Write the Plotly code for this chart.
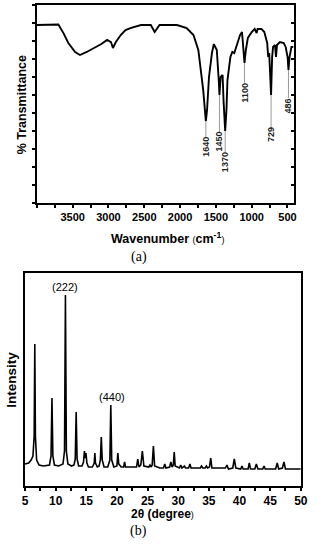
import plotly.graph_objects as go

# ---------------- (a) FT-IR spectrum ----------------
ir_wavenumber = [4000, 3765, 3700, 3629, 3561, 3466, 3398, 3304, 3195, 3100,
                 3019, 2965, 2938, 2897, 2829, 2762, 2694, 2613, 2545, 2409,
                 2355, 2287, 2043, 1908, 1813, 1745, 1718, 1677, 1640, 1623,
                 1596, 1555, 1528, 1487, 1460, 1450, 1433, 1406, 1393, 1370,
                 1352, 1338, 1297, 1270, 1243, 1203, 1162, 1135, 1118, 1100,
                 1081, 1053, 999, 958, 931, 917, 864, 823, 783, 769,
                 755, 729, 714, 701, 674, 660, 646, 606, 552, 525,
                 498, 486, 471, 444, 417]
ir_transmittance = [98.9, 99.4, 99.2, 94.4, 88.9, 83.9, 82.2, 83.9, 86.1, 88.3,
                    90.6, 89.4, 86.1, 89.4, 93.3, 96.1, 97.2, 98.3, 98.9, 98.9,
                    95.0, 98.9, 98.9, 97.2, 93.3, 85.0, 75.6, 62.8, 45.5, 51.7,
                    70.0, 83.3, 88.3, 85.0, 68.3, 60.0, 70.0, 71.1, 57.2, 40.0,
                    51.7, 68.3, 81.1, 83.9, 83.3, 88.9, 93.3, 95.0, 85.0, 77.8,
                    85.0, 91.7, 95.0, 96.7, 94.4, 96.7, 96.7, 95.0, 88.9, 81.1,
                    83.3, 60.0, 81.1, 86.7, 87.8, 81.1, 87.8, 89.4, 88.9, 86.7,
                    81.1, 73.9, 81.1, 86.7, 86.7]
ir_peak_labels = ["1640", "1450", "1370", "1100", "729", "486"]
ir_peak_wn = [1640, 1450, 1370, 1100, 729, 486]
ir_x_ticks = [3500, 3000, 2500, 2000, 1500, 1000, 500]

# ---------------- (b) XRD pattern ----------------
xrd_two_theta = [5.0, 5.6, 6.0, 6.3, 6.5, 6.6, 6.7, 6.9, 7.3, 8.0,
                 9.0, 9.25, 9.4, 9.55, 9.8, 10.5, 11.2, 11.45, 11.6, 11.75,
                 12.0, 12.6, 13.0, 13.2, 13.35, 13.5, 13.75, 14.3, 14.55, 14.7,
                 14.82, 14.95, 15.1, 15.35, 16.0, 16.3, 16.4, 16.5, 16.8, 17.1,
                 17.3, 17.45, 17.6, 17.9, 18.5, 18.85, 19.0, 19.15, 19.5, 20.0,
                 20.15, 20.3, 20.7, 21.1, 21.25, 21.4, 22.0, 23.2, 23.4, 23.6,
                 23.9, 24.15, 24.4, 25.2, 25.4, 25.6, 25.75, 25.95, 26.15, 27.0,
                 27.6, 27.8, 28.0, 28.6, 28.8, 29.0, 29.2, 29.35, 29.5, 30.2,
                 30.4, 30.6, 30.85, 31.0, 31.2, 31.7, 31.9, 32.1, 33.6, 33.8,
                 34.0, 34.4, 34.6, 34.8, 35.1, 35.3, 35.5, 37.7, 37.95, 38.2,
                 38.9, 39.15, 39.4, 40.2, 40.4, 40.6, 41.4, 41.6, 41.8, 42.5,
                 42.75, 43.0, 43.8, 44.0, 44.2, 45.9, 46.15, 46.4, 47.0, 47.25,
                 47.5, 48.0, 50.0]
xrd_intensity = [22, 23, 26, 30, 50, 142, 50, 26, 21, 20,
                 21, 30, 88, 30, 21, 20, 22, 35, 191, 35,
                 22, 20, 21, 27, 74, 27, 20, 20, 24, 35,
                 28, 33, 23, 19, 19, 23, 33, 23, 19, 20,
                 26, 49, 26, 19, 19, 26, 81, 26, 19, 20,
                 33, 22, 19, 19, 24, 19, 19, 19, 27, 19,
                 21, 35, 20, 19, 21, 19, 21, 40, 20, 18,
                 18, 22, 18, 19, 24, 19, 21, 34, 20, 18,
                 21, 18, 19, 20, 18, 18, 22, 18, 18, 20,
                 18, 18, 20, 18, 19, 28, 18, 18, 21, 17,
                 18, 27, 18, 17, 20, 17, 17, 23, 17, 17,
                 22, 17, 17, 20, 17, 17, 23, 17, 18, 24,
                 17, 17, 17]
xrd_peak_labels = ["(222)", "(440)"]
xrd_peak_pos = [11.6, 19.0]
xrd_x_ticks = [5, 10, 15, 20, 25, 30, 35, 40, 45, 50]

W, H = 317, 550
FONT = "Liberation Sans, Arial, sans-serif"
SERIF = "Liberation Serif, Times New Roman, serif"

fig = go.Figure()

fig.add_trace(go.Scatter(x=ir_wavenumber, y=ir_transmittance, mode="lines",
                         line=dict(color="black", width=1.9),
                         xaxis="x", yaxis="y", hoverinfo="skip"))

# leader lines + peak labels (a)
label_center = [31.1, 34.4, 22.8, 61.7, 37.8, 53.9]
label_top = [36.7, 38.9, 28.3, 66.7, 41.7, 58.3]
lx, ly = [], []
for wn, yc, yt, txt in zip(ir_peak_wn, label_center, label_top, ir_peak_labels):
    t_dip = ir_transmittance[ir_wavenumber.index(wn)]
    lx += [wn, wn, None]
    ly += [t_dip, yt, None]
    fig.add_annotation(x=wn, y=yc, xref="x", yref="y", text=txt, textangle=-90,
                       xanchor="center", yanchor="middle",
                       showarrow=False, font=dict(family=FONT, size=9, color="#222", weight="bold"))
fig.add_trace(go.Scatter(x=lx, y=ly, mode="lines", line=dict(color="#9a9a9a", width=1),
                         xaxis="x", yaxis="y", hoverinfo="skip"))
fig.add_trace(go.Scatter(x=[None], y=[None], mode="lines", xaxis="x", yaxis="y3", hoverinfo="skip"))

fig.add_trace(go.Scatter(x=xrd_two_theta, y=xrd_intensity, mode="lines",
                         line=dict(color="black", width=1.6),
                         xaxis="x2", yaxis="y2", hoverinfo="skip"))

xrd_label_y = [199, 89]
xrd_label_dx = [0, 0.25]
for txt, p, yy, dx in zip(xrd_peak_labels, xrd_peak_pos, xrd_label_y, xrd_label_dx):
    fig.add_annotation(x=p + dx, y=yy, xref="x2", yref="y2", text=txt, showarrow=False,
                       xanchor="center", yanchor="middle",
                       font=dict(family=FONT, size=11, color="black"))

tickfont_a = dict(family=FONT, size=11, color="black", weight="bold")
tickfont_b = dict(family=FONT, size=12, color="black", weight="bold")

fig.update_layout(
    width=W, height=H, margin=dict(l=0, r=0, t=0, b=0),
    paper_bgcolor="white", plot_bgcolor="white", showlegend=False,
    xaxis=dict(domain=[35 / W, 300 / W], range=[4000, 415], anchor="y",
               tickvals=ir_x_ticks, ticks="outside", ticklen=3, tickwidth=1.5,
               tickcolor="black", tickfont=tickfont_a, ticklabeloverflow="allow",
               minor=dict(dtick=250, tick0=500, ticks="outside", ticklen=3, tickwidth=1.5, tickcolor="black"),
               showline=True, linecolor="black", linewidth=2, mirror=True,
               showgrid=False, zeroline=False),
    yaxis=dict(domain=[1 - 203 / H, 1 - 5 / H], range=[0, 110], anchor="x",
               dtick=10, ticks="outside", ticklen=3, tickwidth=1.5, tickcolor="black",
               showticklabels=False, showline=True, linecolor="black", linewidth=2,
               mirror=True, showgrid=False, zeroline=False),
    yaxis3=dict(overlaying="y", side="right", anchor="x", range=[0, 110], dtick=10,
                ticks="inside", ticklen=3, tickwidth=1.5, tickcolor="black",
                showticklabels=False, showline=False, showgrid=False, zeroline=False),
    xaxis2=dict(domain=[22.7 / W, 307.5 / W], range=[5, 50], anchor="y2",
                tickvals=xrd_x_ticks, ticks="outside", ticklen=3, tickwidth=1.5,
                tickcolor="black", tickfont=tickfont_b, ticklabeloverflow="allow",
                minor=dict(dtick=2.5, tick0=5, ticks="outside", ticklen=3, tickwidth=1.5, tickcolor="black"),
                showline=True, linecolor="black", linewidth=2, mirror=True,
                showgrid=False, zeroline=False),
    yaxis2=dict(domain=[1 - 486 / H, 1 - 273 / H], range=[0, 213], anchor="x2",
                showticklabels=False, ticks="", showline=True, linecolor="black",
                linewidth=2, mirror=True, showgrid=False, zeroline=False),
)

# axis titles and panel captions
def cap(x, y, text, font, angle=0):
    fig.add_annotation(x=x / W, y=1 - y / H, xref="paper", yref="paper", text=text,
                       textangle=angle, xanchor="center", yanchor="middle",
                       showarrow=False, font=font)

cap(20, 105, "<b>% Transmittance</b>", dict(family=FONT, size=12.5, color="black"), -90)
cap(170, 238, "<b>Wavenumber </b><span style='font-size:9px'>(</span><b>cm<sup>-1</sup></b><span style='font-size:9px'>)</span>",
    dict(family=FONT, size=12.5, color="black"))
cap(140, 257, "(a)", dict(family=SERIF, size=14, color="black"))
cap(8, 380, "<b>Intensity</b>", dict(family=FONT, size=13.5, color="black"), -90)
cap(165, 514, "<b>2θ (degree</b><span style='font-size:9px'>)</span>", dict(family=FONT, size=12, color="black"))
cap(140, 531, "(b)", dict(family=SERIF, size=14, color="black"))

fig.write_html("out.html", config={"displayModeBar": False},
               post_script="document.body.style.margin='0';document.body.style.overflow='hidden';")
